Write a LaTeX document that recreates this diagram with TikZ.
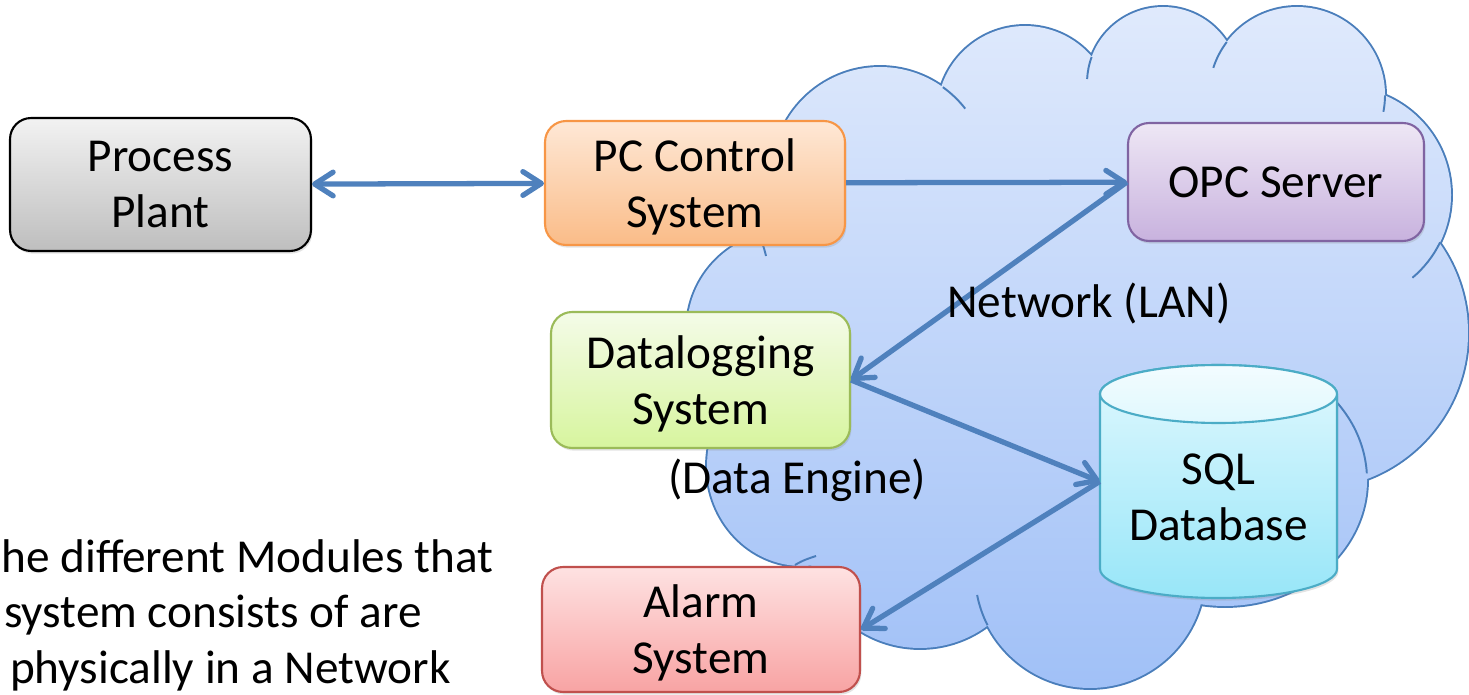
\documentclass[tikz,border=0pt]{standalone}
\usepackage{fontspec}
\setmainfont{Carlito}
\usetikzlibrary{arrows.meta,shadows}

\definecolor{cloudline}{RGB}{74,126,187}
\definecolor{cloudtop}{RGB}{224,234,252}
\definecolor{cloudbot}{RGB}{160,192,247}
\definecolor{linkblue}{RGB}{79,129,189}
\definecolor{grayT}{RGB}{242,242,242}
\definecolor{grayB}{RGB}{190,190,190}
\definecolor{orangeT}{RGB}{254,232,214}
\definecolor{orangeB}{RGB}{250,188,136}
\definecolor{orangeL}{RGB}{247,150,70}
\definecolor{purpleT}{RGB}{238,231,245}
\definecolor{purpleB}{RGB}{200,178,222}
\definecolor{purpleL}{RGB}{128,100,162}
\definecolor{greenT}{RGB}{244,251,232}
\definecolor{greenB}{RGB}{215,245,158}
\definecolor{greenL}{RGB}{155,187,89}
\definecolor{redT}{RGB}{254,226,226}
\definecolor{redB}{RGB}{248,163,163}
\definecolor{redL}{RGB}{192,80,77}
\definecolor{cyanT}{RGB}{224,248,254}
\definecolor{cyanB}{RGB}{152,230,248}
\definecolor{cyanL}{RGB}{75,172,198}

\newcommand\modfont{\fontsize{26.9pt}{31.8pt}\selectfont}
% a line whose descenders do not shift the text block
\newcommand\flatline[1]{\raisebox{0pt}[\height][0pt]{#1}}
% the puffs of the cloud, as circles and ellipses whose union is the cloud
\newcommand\cloudbumps{
  (880,175) circle[radius=108]
  (1025,114) circle[radius=88]
  (1163,83) circle[radius=76]
  (1297,95) circle[radius=88]
  (1343,195) circle[radius=108]
  (1312,333) circle[radius=156]
  (1225,480) ellipse[x radius=142, y radius=126]
  (1090,573) circle[radius=115]
  (920,535) circle[radius=113]
  (802,466) ellipse[x radius=95, y radius=100]
  (786,330) circle[radius=99]
}
% inner body that fills the space between the puffs
\newcommand\cloudcore{(1080,330) ellipse[x radius=330, y radius=240]}

\begin{document}
\begin{tikzpicture}[x=0.02cm, y=-0.02cm,
  module/.style={rectangle, rounded corners=12pt, line width=1.2pt, inner sep=0pt,
    align=center, font=\modfont,
    drop shadow={shadow xshift=0.8pt, shadow yshift=-1.5pt, opacity=0.22}},
  vtip/.tip={Straight Barb[length=10.5pt,width=13.5pt,round]},
  link/.style={draw=linkblue, line width=3pt, -vtip},
  duplex/.style={draw=linkblue, line width=3pt, vtip-vtip},
  rim/.style={draw=cloudline, line width=1.1pt},
  freetext/.style={font=\modfont, inner sep=0pt},
]
\useasboundingbox (0,0) rectangle (1469,695);

% network cloud: stroke every puff, then paint the union over the inner strokes
\draw[cloudline, line width=2.2pt] \cloudbumps;
\begin{scope}
  \clip \cloudbumps \cloudcore;
  \shade[top color=cloudtop, bottom color=cloudbot] (680,0) rectangle (1469,695);
\end{scope}
% short inner arcs where the puffs overlap
\draw[rim] (880,175) ++(-54.4:108) arc[start angle=-54.4, end angle=-37.9, radius=108];
\draw[rim] (1163,83) ++(-160:76) arc[start angle=-160, end angle=-177, radius=76];
\draw[rim] (1297,95) ++(-143:88) arc[start angle=-143, end angle=-162, radius=88];
\draw[rim] (1297,95) ++(0.3:88) arc[start angle=0.3, end angle=11, radius=88];
\draw[rim] (1343,195) ++(26:108) arc[start angle=26, end angle=50, radius=108];
\draw[rim] (1225,480) ++(-3:142 and 126) arc[start angle=-3, end angle=-57, x radius=142, y radius=126];
\draw[rim] (1090,573) ++(153:115) arc[start angle=153, end angle=169, radius=115];
\draw[rim] (795,565) .. controls (803,560) and (810,558) .. (816,556);
\draw[rim] (762,243) .. controls (764,248) .. (766,256);

% modules
\node[module, draw=black, top color=grayT, bottom color=grayB,
      minimum width=6.02cm, minimum height=2.66cm] (plant) at (160.5,184.5) {Process\\Plant};
\node[module, draw=orangeL, top color=orangeT, bottom color=orangeB,
      minimum width=6.0cm, minimum height=2.48cm] (pcs) at (695,183) {PC Control\\\flatline{System}};
\node[module, draw=purpleL, top color=purpleT, bottom color=purpleB,
      minimum width=5.92cm, minimum height=2.36cm] (opc) at (1276,182) {OPC Server};
\node[module, draw=greenL, top color=greenT, bottom color=greenB,
      minimum width=5.98cm, minimum height=2.72cm] (dlog) at (700.5,380) {Datalogging\\\flatline{System}};
\node[module, draw=redL, top color=redT, bottom color=redB,
      minimum width=6.36cm, minimum height=2.5cm] (alarm) at (701,629.5) {Alarm\\\flatline{System}};

% database cylinder
\node[minimum width=4.74cm, minimum height=4.66cm, inner sep=0pt] (sql) at (1218.5,481.5) {};
\path[draw=cyanL, line width=1.2pt, top color=cyanT, bottom color=cyanB,
      drop shadow={shadow xshift=0.8pt, shadow yshift=-1.5pt, opacity=0.22}]
  (1100,394) -- (1100,569) arc[start angle=180, end angle=0, x radius=118.5, y radius=29]
  -- (1337,394) arc[start angle=0, end angle=-180, x radius=118.5, y radius=29] -- cycle;
\path[draw=cyanL, line width=1.2pt, top color=white!60!cyanT, bottom color=cyanT]
  (1218.5,394) ellipse[x radius=118.5, y radius=29];
\node[freetext, align=center] (sqltext) at (1218.5,497) {SQL\\Database};

% data flow
\draw[duplex] (plant) -- (pcs);
\draw[link] (pcs) -- (opc);
\draw[link] (opc.west) -- (dlog.east);
\draw[link] (dlog.east) -- (sql.west);
\draw[link] (sql.west) -- (alarm.east);

% labels
\node[freetext, anchor=base west] (lan) at (947,318) {Network (LAN)};
\node[freetext, anchor=base west] (engine) at (668,493) {(Data Engine)};
\node[freetext, anchor=base west] (note1) at (1,572) {he different Modules that};
\node[freetext, anchor=base east] (note2) at (422,627) {system consists of are};
\node[freetext, anchor=base east] (note3) at (451,683) {physically in a Network};
\end{tikzpicture}
\end{document}
